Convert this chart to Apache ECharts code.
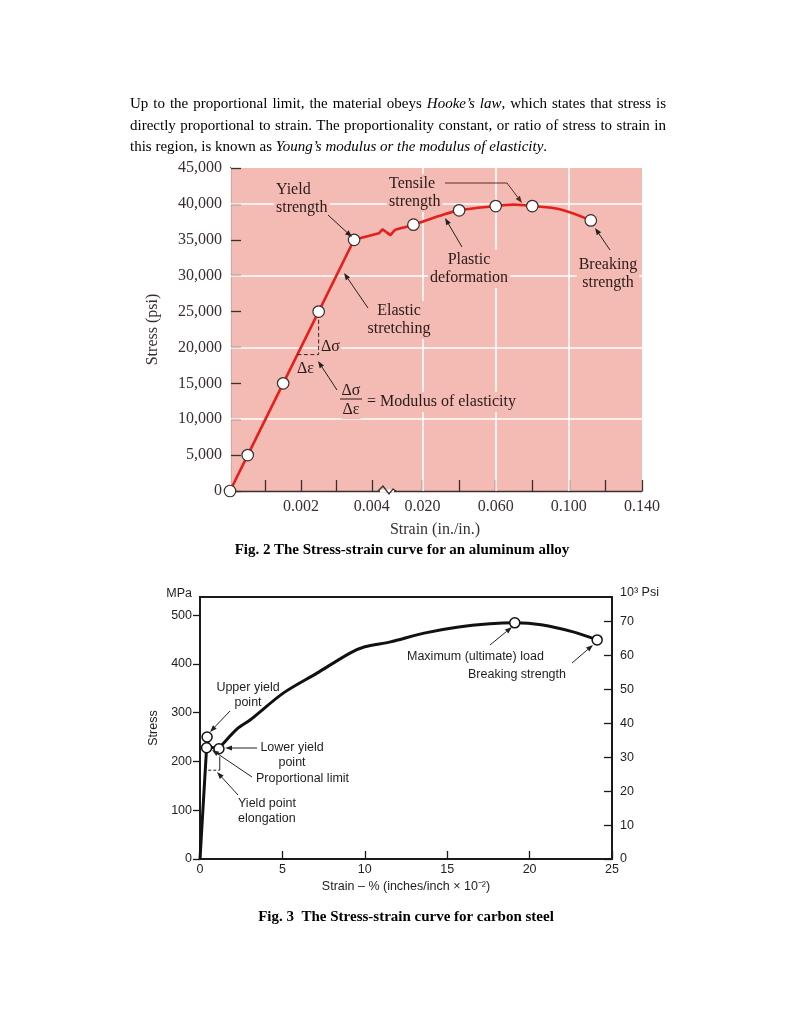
<!DOCTYPE html>
<html>
<head>
<meta charset="utf-8">
<script src="https://cdn.jsdelivr.net/npm/echarts@6/dist/echarts.min.js"></script>
<style>
  html, body { margin:0; padding:0; background:#fff; }
  #c { position:absolute; left:0; top:0; width:800px; height:1036px; }
  #para { position:absolute; left:130px; top:93px; width:536px; font-family:"Liberation Serif","Times New Roman",serif; font-size:15px; line-height:21.5px; color:#000; z-index:5; }
  #para .l { white-space:nowrap; }
  #para .j { text-align:justify; text-align-last:justify; }
  .cap { position:absolute; width:800px; text-align:center; font-family:"Liberation Serif","Times New Roman",serif; font-weight:bold; font-size:15px; color:#000; z-index:5; }
</style>
</head>
<body>
<div id="c"></div>
<div id="para">
  <div class="l j">Up to the proportional limit, the material obeys <i>Hooke’s law</i>, which states that stress is</div>
  <div class="l j">directly proportional to strain. The proportionality constant, or ratio of stress to strain in</div>
  <div class="l">this region, is known as <i>Young’s modulus or the modulus of elasticity</i>.</div>
</div>
<div class="cap" style="top:541px; left:2px;">Fig. 2 The Stress-strain curve for an aluminum alloy</div>
<div class="cap" style="top:908px; left:6px;">Fig. 3&nbsp;&nbsp;The Stress-strain curve for carbon steel</div>
<script>
// ---------- Fig. 2 : aluminum alloy (psi vs in./in.) ----------
// elastic part (left, expanded strain scale 0..0.0044)
const alumLeftStrain = [0, 0.0005, 0.0015, 0.0025, 0.0035, 0.0042, 0.0043, 0.0044];
const alumLeftStress = [0, 5000, 15000, 25000, 35000, 35900, 36450, 36100];
// break zig-zag (right, compressed strain scale 0..0.140)
const alumZigStrain = [0, 0.0024, 0.0050];
const alumZigStress = [36100, 35650, 36400];
// plastic part
const alumRightStrain = [0.005, 0.015, 0.029, 0.04, 0.06, 0.07, 0.08, 0.095, 0.112];
const alumRightStress = [36400, 37100, 38300, 39100, 39700, 39900, 39700, 39250, 37700];
// circle markers
const alumMarkLeftStrain = [0, 0.0005, 0.0015, 0.0025, 0.0035];
const alumMarkLeftStress = [0, 5000, 15000, 25000, 35000];
const alumMarkRightStrain = [0.015, 0.04, 0.06, 0.08, 0.112];
const alumMarkRightStress = [37100, 39100, 39700, 39700, 37700];
// delta triangle
const alumDeltaStrain = [0.0019, 0.0025, 0.0025];
const alumDeltaStress = [19000, 19000, 25000];
// ticks / labels
const alumTicksLeft = [0.001, 0.002, 0.003, 0.004];
const alumLabelsLeft = [0.002, 0.004];
const alumTicksRight = [0.02, 0.04, 0.06, 0.08, 0.10, 0.12, 0.14];
const alumLabelsRight = [0.02, 0.06, 0.10, 0.14];
const alumGridXLeft = [0.002, 0.004];
const alumGridXRight = [0.02, 0.06, 0.10];
const alumGridY = [10000, 20000, 30000, 40000];

// ---------- Fig. 3 : carbon steel (MPa vs strain %) ----------
const steelYieldStrain = [0, 0.40, 0.43, 0.50, 1.15];
const steelYieldStress = [0, 228, 250, 230, 226];
const steelPlasticStrain = [1.15, 1.34, 2.3, 3.04, 5.05, 7.1, 9.1, 10.0, 11.55, 13.6, 15.6, 17.6, 19.1, 20.7, 22.7, 24.1];
const steelPlasticStress = [226, 234, 268, 285, 340, 381, 422, 435, 445, 463, 475, 482, 484, 480, 465, 449];
const steelMarkStrain = [0.40, 0.43, 1.15, 19.1, 24.1];
const steelMarkStress = [228, 250, 226, 484, 449];
const steelElongDashStrain = [0.5, 1.2];
const steelElongDashStress = [182, 182];
const steelElongBarStrain = [1.2, 1.2];
const steelElongBarStress = [182, 210];
const steelMpaTicks = [0, 100, 200, 300, 400, 500];
const steelPsiTicks = [0, 10, 20, 30, 40, 50, 60, 70];

const zip = (a, b) => a.map((v, i) => [v, b[i]]);

const serif = '"Liberation Serif", "Times New Roman", serif';
const sans = '"Liberation Sans", Arial, Helvetica, sans-serif';
const pink = '#F3BBB3';
const red = '#E3201B';
const ax1 = '#3a2e2e';
const txt1 = '#2a1a1a';
const ax2 = '#1a1a1a';

function txt(text, x, y, o) {
  return { type: 'text', z: 20, silent: true,
    style: Object.assign({ text, x, y, fontSize: 16, fontFamily: serif, fill: txt1,
      align: 'left', verticalAlign: 'middle', lineHeight: 18 }, o || {}) };
}
function ptxt(text, x, y, o) {
  return txt(text, x, y, Object.assign({ backgroundColor: pink, padding: [1, 2] }, o || {}));
}
function stxt(text, x, y, o) {
  return txt(text, x, y, Object.assign({ fontSize: 12.5, fontFamily: sans, fill: '#1e1e1e', lineHeight: 15.5 }, o || {}));
}
function arrow(x1, y1, x2, y2, color, w) {
  color = color || '#222';
  const a = Math.atan2(y2 - y1, x2 - x1), L = 7, W = 2.6;
  const bx = x2 - L * Math.cos(a), by = y2 - L * Math.sin(a);
  const px = -Math.sin(a) * W, py = Math.cos(a) * W;
  return [
    { type: 'line', z: 21, silent: true, shape: { x1, y1, x2: bx, y2: by }, style: { stroke: color, lineWidth: w || 1 } },
    { type: 'polygon', z: 21, silent: true, shape: { points: [[x2, y2], [bx + px, by + py], [bx - px, by - py]] }, style: { fill: color } }
  ];
}

const gridLineSeries = (xi, yi, xs) => ({
  type: 'line', xAxisIndex: xi, yAxisIndex: yi, data: [[xs[0], 0]], symbol: 'none', silent: true, z: 1,
  lineStyle: { opacity: 0 },
  markLine: { z: 1, silent: true, animation: false, symbol: ['none', 'none'], label: { show: false },
    emphasis: { disabled: true },
    lineStyle: { color: '#ffffff', width: 1.6, type: 'solid' },
    data: xs.map(v => ({ xAxis: v })).concat(alumGridY.map(v => ({ yAxis: v }))) }
});

const serifLabel = { fontFamily: serif, fontSize: 16, color: ax1 };
const sansLabel = { fontFamily: sans, fontSize: 12.5, color: '#1e1e1e' };

const option = {
  animation: false,
  grid: [
    { left: 230, top: 168, width: 156, height: 323, show: true, backgroundColor: pink, borderWidth: 0 },
    { left: 386, top: 168, width: 256, height: 323, show: true, backgroundColor: pink, borderWidth: 0 },
    { left: 200, top: 597, width: 412, height: 262, show: true, backgroundColor: 'transparent', borderColor: ax2, borderWidth: 2 }
  ],
  xAxis: [
    { gridIndex: 0, type: 'value', min: 0, max: 0.0044,
      axisLine: { lineStyle: { color: ax1, width: 1.3 } },
      axisTick: { inside: true, length: 11, customValues: alumTicksLeft, lineStyle: { color: ax1, width: 1.3 } },
      axisLabel: Object.assign({ customValues: alumLabelsLeft, formatter: v => v.toFixed(3), margin: 8 }, serifLabel),
      splitLine: { show: false } },
    { gridIndex: 1, type: 'value', min: 0, max: 0.14,
      axisLine: { lineStyle: { color: ax1, width: 1.3 } },
      axisTick: { inside: true, length: 11, customValues: alumTicksRight, lineStyle: { color: ax1, width: 1.3 } },
      axisLabel: Object.assign({ customValues: alumLabelsRight, formatter: v => v.toFixed(3), margin: 8 }, serifLabel),
      splitLine: { show: false } },
    { gridIndex: 2, type: 'value', min: 0, max: 25, interval: 5,
      axisLine: { lineStyle: { color: ax2, width: 2 } },
      axisTick: { inside: true, length: 8, lineStyle: { color: ax2, width: 1.3 } },
      axisLabel: Object.assign({ margin: 4 }, sansLabel),
      splitLine: { show: false },
      name: 'Strain – % (inches/inch × 10⁻²)', nameLocation: 'middle', nameGap: 21,
      nameTextStyle: sansLabel }
  ],
  yAxis: [
    { gridIndex: 0, type: 'value', min: 0, max: 45000, interval: 5000,
      axisLine: { show: true, lineStyle: { color: ax1, width: 1.3 } },
      axisTick: { show: true, inside: true, length: 11, lineStyle: { color: ax1, width: 1.3 } },
      axisLabel: Object.assign({ margin: 8, formatter: v => v.toLocaleString('en-US') }, serifLabel),
      splitLine: { show: false },
      name: 'Stress (psi)', nameLocation: 'middle', nameGap: 69, nameRotate: 90,
      nameTextStyle: serifLabel },
    { gridIndex: 1, type: 'value', min: 0, max: 45000, show: false },
    { gridIndex: 2, type: 'value', min: 0, max: 537,
      axisLine: { show: true, lineStyle: { color: ax2, width: 2 } },
      axisTick: { show: true, inside: false, length: 7, customValues: steelMpaTicks, lineStyle: { color: ax2, width: 1.3 } },
      axisLabel: Object.assign({ margin: 8, customValues: steelMpaTicks }, sansLabel),
      splitLine: { show: false },
      name: 'Stress', nameLocation: 'middle', nameGap: 34, nameRotate: 90, nameTextStyle: sansLabel },
    { gridIndex: 2, type: 'value', position: 'right', min: 0, max: 77.2,
      axisLine: { show: true, lineStyle: { color: ax2, width: 2 } },
      axisTick: { show: true, inside: true, length: 8, customValues: steelPsiTicks, lineStyle: { color: ax2, width: 1.3 } },
      axisLabel: Object.assign({ margin: 8, customValues: steelPsiTicks }, sansLabel),
      splitLine: { show: false } }
  ],
  series: [
    gridLineSeries(0, 0, alumGridXLeft),
    gridLineSeries(1, 1, alumGridXRight),
    { type: 'line', xAxisIndex: 0, yAxisIndex: 0, data: zip(alumLeftStrain, alumLeftStress), symbol: 'none', z: 3,
      lineStyle: { color: red, width: 2.6 } },
    { type: 'line', xAxisIndex: 1, yAxisIndex: 1, data: zip(alumZigStrain, alumZigStress), symbol: 'none', z: 3,
      lineStyle: { color: red, width: 2.6 } },
    { type: 'line', xAxisIndex: 1, yAxisIndex: 1, data: zip(alumRightStrain, alumRightStress), symbol: 'none', z: 3,
      smooth: 0.35, lineStyle: { color: red, width: 2.6 } },
    { type: 'line', xAxisIndex: 0, yAxisIndex: 0, data: zip(alumDeltaStrain, alumDeltaStress), symbol: 'none', z: 3,
      lineStyle: { color: '#3a2020', width: 1, type: [4, 2.5] } },
    { type: 'scatter', xAxisIndex: 0, yAxisIndex: 0, data: zip(alumMarkLeftStrain, alumMarkLeftStress), symbol: 'circle',
      symbolSize: 11.5, z: 4, itemStyle: { color: '#fff', borderColor: '#3a2e2e', borderWidth: 1.2, opacity: 1 } },
    { type: 'scatter', xAxisIndex: 1, yAxisIndex: 1, data: zip(alumMarkRightStrain, alumMarkRightStress), symbol: 'circle',
      symbolSize: 11.5, z: 4, itemStyle: { color: '#fff', borderColor: '#3a2e2e', borderWidth: 1.2, opacity: 1 } },

    { type: 'line', xAxisIndex: 2, yAxisIndex: 2, data: zip(steelYieldStrain, steelYieldStress), symbol: 'none', z: 3,
      lineStyle: { color: '#111', width: 3 } },
    { type: 'line', xAxisIndex: 2, yAxisIndex: 2, data: zip(steelPlasticStrain, steelPlasticStress), symbol: 'none', z: 3,
      smooth: 0.3, lineStyle: { color: '#111', width: 3 } },
    { type: 'line', xAxisIndex: 2, yAxisIndex: 2, data: zip(steelElongDashStrain, steelElongDashStress), symbol: 'none', z: 3,
      lineStyle: { color: '#222', width: 1, type: [3, 2] } },
    { type: 'line', xAxisIndex: 2, yAxisIndex: 2, data: zip(steelElongBarStrain, steelElongBarStress), symbol: 'none', z: 3,
      lineStyle: { color: '#222', width: 1 } },
    { type: 'scatter', xAxisIndex: 2, yAxisIndex: 2, data: zip(steelMarkStrain, steelMarkStress), symbol: 'circle',
      symbolSize: 10, z: 4, itemStyle: { color: '#fff', borderColor: '#111', borderWidth: 1.5, opacity: 1 } }
  ],
  graphic: [
    // Fig. 2 annotations
    ptxt('Yield\nstrength', 274, 199),
    ...arrow(328, 215, 352, 237),
    ptxt('Tensile\nstrength', 387, 193),
    { type: 'polyline', z: 21, silent: true, shape: { points: [[445, 183], [507, 183]] }, style: { stroke: '#5a2a20', lineWidth: 1 } },
    ...arrow(507, 183, 522, 203, '#5a2a20'),
    ptxt('Plastic\ndeformation', 469, 269, { align: 'center' }),
    ...arrow(462, 247, 445, 218),
    ptxt('Breaking\nstrength', 608, 274, { align: 'center' }),
    ...arrow(610, 250, 595, 228),
    ptxt('Elastic\nstretching', 399, 320, { align: 'center' }),
    ...arrow(368, 308, 344, 273),
    ptxt('Δσ', 320, 347, { padding: [0, 1] }),
    ptxt('Δε', 296, 369, { padding: [0, 1] }),
    ...arrow(337, 390, 318, 361),
    ptxt('Δσ', 351, 391, { align: 'center', padding: [0, 1] }),
    { type: 'line', z: 22, silent: true, shape: { x1: 340, y1: 399, x2: 362, y2: 399 }, style: { stroke: txt1, lineWidth: 1 } },
    ptxt('Δε', 351, 410, { align: 'center', padding: [0, 1] }),
    ptxt('= Modulus of elasticity', 365, 402),
    txt('Strain (in./in.)', 435, 530, { align: 'center', fill: ax1 }),
    // axis break zig-zag
    { type: 'rect', z: 19, silent: true, shape: { x: 380, y: 489.5, width: 14, height: 3 }, style: { fill: '#fff' } },
    { type: 'polyline', z: 21, silent: true, shape: { points: [[378, 491], [383, 486], [389, 494], [393, 489], [396, 491]] },
      style: { stroke: ax1, lineWidth: 1.3, fill: null } },

    // Fig. 3 annotations
    stxt('MPa', 192, 594, { align: 'right' }),
    stxt('10³ Psi', 620, 593),
    stxt('Upper yield\npoint', 248, 695, { align: 'center' }),
    ...arrow(230, 711, 210, 732),
    stxt('Lower yield\npoint', 292, 755, { align: 'center' }),
    ...arrow(257, 748, 225, 748),
    stxt('Proportional limit', 256, 779),
    ...arrow(252, 777, 212, 750),
    stxt('Yield point\nelongation', 238, 811),
    ...arrow(238, 795, 217, 772),
    stxt('Maximum (ultimate) load', 407, 657),
    ...arrow(490, 645, 512, 627),
    stxt('Breaking strength', 468, 675),
    ...arrow(572, 663, 593, 645)
  ]
};

const chart = echarts.init(document.getElementById('c'), null, { renderer: 'canvas' });
chart.setOption(option);
</script>
</body>
</html>
